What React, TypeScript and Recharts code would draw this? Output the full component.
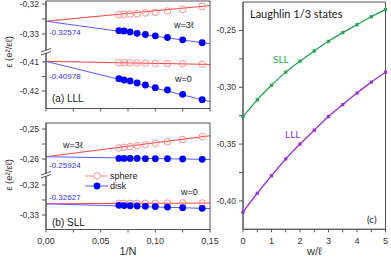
import React from 'react';
import { ComposedChart, Line, XAxis, YAxis, ReferenceArea } from 'recharts';

// x values of the finite-size points, 1/N for N = 15 ... 7
const invN = [1 / 15, 1 / 14, 1 / 13, 1 / 12, 1 / 11, 1 / 10, 1 / 9, 1 / 8, 1 / 7];
const fitX = [0, 0.15];

// (a) LLL
const lllW3Sphere = [-0.32357, -0.32343, -0.32333, -0.32323, -0.323, -0.32277, -0.32233, -0.32177, -0.32077];
const lllW3Disk = [-0.3289, -0.329, -0.32933, -0.32977, -0.33017, -0.3306, -0.33117, -0.33193, -0.3329];
const lllW0Sphere = [-0.41025, -0.41028, -0.41031, -0.41035, -0.4104, -0.41046, -0.41055, -0.41065, -0.41078];
const lllW0Disk = [-0.41576, -0.41621, -0.41655, -0.41724, -0.41793, -0.41886, -0.41966, -0.42114, -0.423];
const lllW3SphereFit = [-0.32574, -0.32052];
const lllW3DiskFit = [-0.32574, -0.33325];
const lllW0SphereFit = [-0.40978, -0.41083];
const lllW0DiskFit = [-0.40978, -0.42366];

// (b) SLL
const sllW3Sphere = [-0.25633, -0.2561, -0.2559, -0.25557, -0.25523, -0.25477, -0.25423, -0.2535, -0.25257];
const sllW3Disk = [-0.2598, -0.2598, -0.2598, -0.2598, -0.2599, -0.2599, -0.2599, -0.26, -0.2601];
const sllW0Sphere = [-0.3261, -0.3261, -0.3261, -0.3261, -0.3261, -0.3261, -0.326, -0.326, -0.326];
const sllW0Disk = [-0.32677, -0.32685, -0.32692, -0.327, -0.3271, -0.3272, -0.32735, -0.32755, -0.32777];
const sllW3SphereFit = [-0.25924, -0.25224];
const sllW3DiskFit = [-0.25924, -0.26015];
const sllW0SphereFit = [-0.32627, -0.326];
const sllW0DiskFit = [-0.32627, -0.32785];

// (c) energy vs w/l
const wVals = [0, 0.5, 1, 1.5, 2, 2.5, 3, 3.5, 4, 4.5, 5];
const sllCurve = [-0.3259, -0.3111, -0.2983, -0.2867, -0.2771, -0.2681, -0.2596, -0.252, -0.245, -0.238, -0.2317];
const lllCurve = [-0.4099, -0.3933, -0.3779, -0.3631, -0.35, -0.3378, -0.3258, -0.3153, -0.3051, -0.2955, -0.2868];

const nTicks = [0, 0.025, 0.05, 0.075, 0.1, 0.125, 0.15];
const wTicks = [0, 0.5, 1, 1.5, 2, 2.5, 3, 3.5, 4, 4.5, 5];
const cTicks = [-0.4, -0.375, -0.35, -0.325, -0.3, -0.275, -0.25];

const pts = (xs: number[], ys: number[]) => xs.map((x, i) => ({ x, y: ys[i] }));

const RED = '#ff4040';
const PINK = '#ff8c8c';
const BLUE = '#0000ff';
const LBLUE = '#5a5aff';
const GREEN = '#1fa54c';
const PURPLE = '#a02cd8';
const FRAME = '#555';
const FONT = '"Liberation Sans", Arial, sans-serif';

const comma = (v: number, d: number) => v.toFixed(d).replace('.', ',');
const isMult = (v: number, step: number) => Math.abs(v / step - Math.round(v / step)) < 1e-6;

const openDot = (p: any) => (
  <circle key={p.index} cx={p.cx} cy={p.cy} r={3.3} fill="none" stroke={PINK} strokeWidth={1} />
);
const diskDot = (p: any) => <circle key={p.index} cx={p.cx} cy={p.cy} r={3.4} fill={BLUE} stroke="none" />;

// one piece of a broken y axis (upper or lower part of panel a / b)
function Segment(props: {
  top: number;
  height: number;
  marginTop: number;
  xHeight: number;
  showX: boolean;
  xLabels: boolean;
  domain: number[];
  ticks: number[];
  sphere: number[];
  disk: number[];
  sphereFit: number[];
  diskFit: number[];
}) {
  return (
    <div style={{ position: 'absolute', left: 0, top: props.top }}>
      <ComposedChart
        width={225}
        height={props.height}
        margin={{ top: props.marginTop, right: 15, bottom: 0, left: 0 }}
      >
        <XAxis
          type="number"
          dataKey="x"
          domain={[0, 0.15]}
          ticks={nTicks}
          interval={0}
          hide={!props.showX}
          height={props.xHeight}
          stroke={FRAME}
          tickSize={3}
          tickMargin={5}
          tick={{ fontSize: 9, fill: '#333', fontFamily: FONT }}
          tickFormatter={(v: number) => (props.xLabels && isMult(v, 0.05) ? comma(v, 2) : '')}
          label={
            props.xLabels
              ? { value: '1/N', position: 'insideBottom', offset: 3, fontSize: 11, fill: '#333', fontFamily: FONT }
              : undefined
          }
        />
        <YAxis
          type="number"
          dataKey="y"
          width={46}
          domain={props.domain}
          allowDataOverflow
          ticks={props.ticks}
          interval={0}
          stroke={FRAME}
          tickSize={4}
          tickMargin={3}
          tick={{ fontSize: 8.5, fill: '#333', fontFamily: FONT }}
          tickFormatter={(v: number) => (isMult(v, 0.01) ? comma(v, 2) : '')}
        />
        <Line
          data={pts(fitX, props.sphereFit)}
          dataKey="y"
          type="linear"
          stroke={RED}
          strokeWidth={1}
          dot={false}
          activeDot={false}
          isAnimationActive={false}
        />
        <Line
          data={pts(fitX, props.diskFit)}
          dataKey="y"
          type="linear"
          stroke={LBLUE}
          strokeWidth={1}
          dot={false}
          activeDot={false}
          isAnimationActive={false}
        />
        <Line
          data={pts(invN, props.sphere)}
          dataKey="y"
          stroke="none"
          dot={openDot}
          activeDot={false}
          isAnimationActive={false}
        />
        <Line
          data={pts(invN, props.disk)}
          dataKey="y"
          stroke="none"
          dot={diskDot}
          activeDot={false}
          isAnimationActive={false}
        />
      </ComposedChart>
    </div>
  );
}

const sqDot = (color: string) => (p: any) =>
  <rect key={p.index} x={p.cx - 1.6} y={p.cy - 1.6} width={3.2} height={3.2} fill={color} />;

function CurvePanel() {
  return (
    <div style={{ position: 'absolute', left: 200, top: 0 }}>
      <ComposedChart width={191} height={258} margin={{ top: 2, right: 5.5, bottom: 0, left: 0 }}>
        <XAxis
          type="number"
          dataKey="x"
          domain={[0, 5]}
          ticks={wTicks}
          interval={0}
          height={28.7}
          stroke={FRAME}
          tickSize={3}
          tickMargin={5}
          tick={{ fontSize: 9, fill: '#333', fontFamily: FONT }}
          tickFormatter={(v: number) => (isMult(v, 1) ? String(v) : '')}
          label={{ value: 'w/\u2113', position: 'insideBottom', offset: 3, fontSize: 11, fill: '#333', fontFamily: FONT }}
        />
        <YAxis
          type="number"
          dataKey="y"
          width={43}
          domain={[-0.425, -0.225]}
          allowDataOverflow
          ticks={cTicks}
          interval={0}
          stroke={FRAME}
          tickSize={4}
          tickMargin={3}
          tick={{ fontSize: 8.5, fill: '#333', fontFamily: FONT }}
          tickFormatter={(v: number) => (isMult(v, 0.05) ? comma(v, 2) : '')}
        />
        <ReferenceArea x1={0} x2={5} y1={-0.425} y2={-0.225} fill="none" stroke={FRAME} ifOverflow="visible" />
        <Line
          data={pts(wVals, sllCurve)}
          dataKey="y"
          type="monotone"
          stroke={GREEN}
          strokeWidth={1.3}
          dot={sqDot(GREEN)}
          activeDot={false}
          isAnimationActive={false}
        />
        <Line
          data={pts(wVals, lllCurve)}
          dataKey="y"
          type="monotone"
          stroke={PURPLE}
          strokeWidth={1.3}
          dot={sqDot(PURPLE)}
          activeDot={false}
          isAnimationActive={false}
        />
      </ComposedChart>
    </div>
  );
}

function BreakMark({ y }: { y: number }) {
  return (
    <g>
      <polygon points={`41,${y + 2} 51,${y - 1.5} 51,${y + 1.5} 41,${y + 5}`} fill="#fff" />
      <line x1={41} y1={y + 2} x2={51} y2={y - 1.5} stroke="#444" strokeWidth={0.9} />
      <line x1={41} y1={y + 5} x2={51} y2={y + 1.5} stroke="#444" strokeWidth={0.9} />
    </g>
  );
}

export default function App() {
  const t = { fontFamily: FONT };
  const lato = { fontFamily: 'Lato, sans-serif' };
  return (
    <div style={{ position: 'absolute', left: 0, top: 0, width: 391, height: 258, background: '#fff' }}>
      {/* (a) LLL, upper and lower part */}
      <Segment
        top={0}
        height={50}
        marginTop={1}
        xHeight={0}
        showX={false}
        xLabels={false}
        domain={[-0.335333, -0.319]}
        ticks={[-0.32, -0.325, -0.33]}
        sphere={lllW3Sphere}
        disk={lllW3Disk}
        sphereFit={lllW3SphereFit}
        diskFit={lllW3DiskFit}
      />
      <Segment
        top={50}
        height={63}
        marginTop={0}
        xHeight={4.5}
        showX={true}
        xLabels={false}
        domain={[-0.426034, -0.405862]}
        ticks={[-0.41, -0.415, -0.42]}
        sphere={lllW0Sphere}
        disk={lllW0Disk}
        sphereFit={lllW0SphereFit}
        diskFit={lllW0DiskFit}
      />
      {/* (b) SLL */}
      <Segment
        top={123}
        height={52}
        marginTop={0}
        xHeight={0}
        showX={false}
        xLabels={false}
        domain={[-0.265333, -0.248]}
        ticks={[-0.25, -0.255, -0.26]}
        sphere={sllW3Sphere}
        disk={sllW3Disk}
        sphereFit={sllW3SphereFit}
        diskFit={sllW3DiskFit}
      />
      <Segment
        top={175}
        height={83}
        marginTop={0}
        xHeight={28.5}
        showX={true}
        xLabels={true}
        domain={[-0.334833, -0.316667]}
        ticks={[-0.32, -0.325, -0.33]}
        sphere={sllW0Sphere}
        disk={sllW0Disk}
        sphereFit={sllW0SphereFit}
        diskFit={sllW0DiskFit}
      />
      <CurvePanel />
      <svg
        width={391}
        height={258}
        style={{ position: 'absolute', left: 0, top: 0, pointerEvents: 'none' }}
      >
        <rect x={46} y={1} width={164} height={107.5} fill="none" stroke={FRAME} strokeWidth={1} />
        <rect x={46} y={123} width={164} height={106.5} fill="none" stroke={FRAME} strokeWidth={1} />
        <BreakMark y={50} />
        <BreakMark y={173} />
        <text x={12} y={52} transform="rotate(-90 12 52)" textAnchor="middle" fontSize={9.5} fill="#333" style={t}>
          {'\u03b5 (e\u00b2/\u03b5\u2113)'}
        </text>
        <text x={12} y={175} transform="rotate(-90 12 175)" textAnchor="middle" fontSize={9.5} fill="#333" style={t}>
          {'\u03b5 (e\u00b2/\u03b5\u2113)'}
        </text>

        <text x={174} y={28} fontSize={9} fill="#222" style={t}>{'w=3\u2113'}</text>
        <text x={49} y={35} fontSize={8} fill="#3333ff" style={t}>-0.32574</text>
        <text x={175} y={82} fontSize={9} fill="#222" style={t}>w=0</text>
        <text x={49} y={79} fontSize={8} fill="#3333ff" style={t}>-0.40978</text>
        <text x={52} y={102} fontSize={10} fill="#222" style={t}>(a) LLL</text>

        <text x={63} y={148} fontSize={9} fill="#222" style={t}>{'w=3\u2113'}</text>
        <text x={49} y={168} fontSize={8} fill="#3333ff" style={t}>-0.25924</text>
        <text x={49} y={200} fontSize={8} fill="#3333ff" style={t}>-0.32627</text>
        <text x={181} y={195} fontSize={9} fill="#222" style={t}>w=0</text>
        <text x={52} y={226} fontSize={10} fill="#222" style={t}>(b) SLL</text>

        <line x1={85} y1={176} x2={108} y2={176} stroke={PINK} strokeWidth={1} />
        <circle cx={97} cy={176} r={3.3} fill="#fff" stroke={PINK} strokeWidth={1} />
        <text x={110} y={179} fontSize={9} fill="#222" style={t}>sphere</text>
        <line x1={85} y1={186} x2={108} y2={186} stroke={LBLUE} strokeWidth={1} />
        <circle cx={97} cy={186} r={3.4} fill={BLUE} />
        <text x={110} y={189} fontSize={9} fill="#222" style={t}>disk</text>

        <text x={250} y={18} fontSize={11} fill="#222" style={lato}>Laughlin 1/3 states</text>
        <text x={273} y={63} fontSize={10} fill={GREEN} style={lato}>SLL</text>
        <text x={285} y={138} fontSize={10} fill={PURPLE} style={lato}>LLL</text>
        <text x={367} y={223} fontSize={10} fill="#222" style={lato}>(c)</text>
      </svg>
    </div>
  );
}
